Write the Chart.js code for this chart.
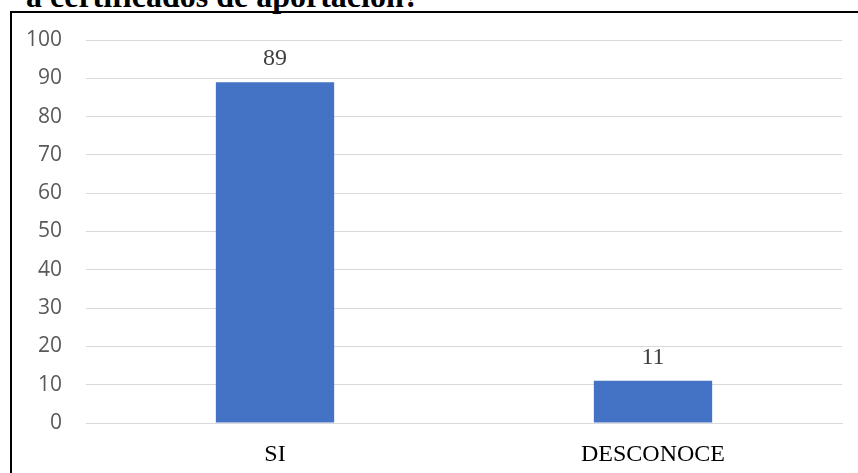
<!DOCTYPE html>
<html>
<head>
<meta charset="utf-8">
<script src="https://cdn.jsdelivr.net/npm/chart.js@4"></script>
<style>
  html, body { margin: 0; padding: 0; background: #fff; overflow: hidden; }
  #wrap { position: relative; width: 858px; height: 473px; }
  #title {
    position: absolute; left: 26px; top: -20px; white-space: nowrap;
    font: bold 32px/32px "Liberation Serif", "Times New Roman", serif; color: #000;
  }
  #frame {
    position: absolute; left: 10px; top: 11px; width: 900px; height: 500px;
    border-left: 2px solid #000; border-top: 2px solid #000;
  }
  #chart { position: absolute; left: 0; top: 0; }
</style>
</head>
<body>
<div id="wrap">
  <div id="title">a certificados de aportación?</div>
  <div id="frame"></div>
  <canvas id="chart" width="858" height="473"></canvas>
</div>
<script>
const categories = ['SI', 'DESCONOCE'];
const values = [89, 11];
const yTicks = [0, 10, 20, 30, 40, 50, 60, 70, 80, 90, 100];

const valueLabels = {
  id: 'valueLabels',
  afterDatasetsDraw(chart) {
    const ctx = chart.ctx;
    const meta = chart.getDatasetMeta(0);
    ctx.save();
    ctx.font = '24px "Liberation Serif", "Times New Roman", serif';
    ctx.fillStyle = '#404040';
    ctx.textAlign = 'center';
    ctx.textBaseline = 'alphabetic';
    meta.data.forEach((bar, i) => {
      ctx.fillText(String(values[i]), bar.x, bar.y - 17);
    });
    ctx.restore();
  }
};

new Chart(document.getElementById('chart'), {
  type: 'bar',
  data: {
    labels: categories,
    datasets: [{
      data: values,
      backgroundColor: '#4472C4',
      borderWidth: 0,
      categoryPercentage: 1,
      barPercentage: 0.313
    }]
  },
  options: {
    responsive: false,
    animation: false,
    layout: { padding: { top: 40, right: 16, left: 0, bottom: 0 } },
    plugins: {
      legend: { display: false },
      tooltip: { enabled: false }
    },
    scales: {
      x: {
        grid: { display: false, drawTicks: false },
        border: { display: true, color: '#d9d9d9', width: 1 },
        ticks: {
          color: '#000',
          padding: 17,
          font: { family: '"Liberation Serif", "Times New Roman", serif', size: 24 }
        },
        afterFit(scale) { scale.height = 50; }
      },
      y: {
        min: 0,
        max: 100,
        afterBuildTicks(scale) { scale.ticks = yTicks.map(v => ({ value: v })); },
        grid: { color: '#d9d9d9', lineWidth: 1, drawTicks: false },
        border: { display: false },
        ticks: {
          color: '#595959',
          padding: 24,
          font: { family: '"Open Sans", "Liberation Sans", sans-serif', size: 21 }
        },
        afterFit(scale) { scale.width = 86; }
      }
    }
  },
  plugins: [valueLabels]
});
</script>
</body>
</html>
